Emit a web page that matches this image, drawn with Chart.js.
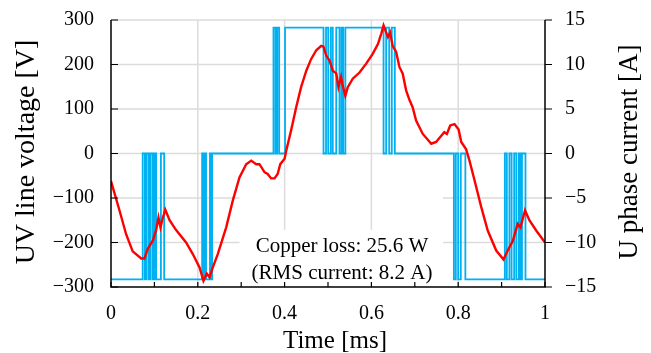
<!DOCTYPE html>
<html lang="en">
<head>
<meta charset="UTF-8">
<title>UV line voltage and U phase current</title>
<script src="https://cdn.jsdelivr.net/npm/chart.js"></script>
<style>
  body { margin: 0; background: #fff; }
</style>
</head>
<body>
<canvas id="myChart" width="651" height="353"></canvas>
<script>
// UV line voltage: switching instants [ms] and the level right after each one [V]
const voltTimes = [0,
  0.073, 0.078, 0.082, 0.087, 0.091, 0.096, 0.100, 0.104, 0.115, 0.1225,
  0.210, 0.213, 0.215, 0.219, 0.228, 0.2305, 0.233,
  0.3744, 0.379, 0.383, 0.3875, 0.401,
  0.4896, 0.4955, 0.5005, 0.5065, 0.511, 0.519, 0.5265, 0.531, 0.535, 0.540,
  0.628, 0.634, 0.641, 0.647, 0.654,
  0.790, 0.7945, 0.800, 0.806, 0.8165,
  0.9075, 0.912, 0.918, 0.923, 0.929, 0.934, 0.9396, 0.943, 0.947, 0.955,
  1];
const voltLevels = [-283,
  0, -283, 0, -283, 0, -283, 0, -283, 0, -283,
  0, -283, 0, -283, 0, -283, 0,
  283, 0, 283, 0, 283,
  0, 283, 0, 283, 0, 283, 0, 283, 0, 283,
  0, 283, 0, 283, 0,
  -283, 0, -283, 0, -283,
  0, -283, 0, -283, 0, -283, 0, -283, 0, -283,
  -283];

// U phase current [A]
const currTimes = [0, 0.0196, 0.035, 0.050, 0.0696, 0.077, 0.0848, 0.0963, 0.104, 0.1094,
  0.114, 0.119, 0.125, 0.135, 0.150, 0.173, 0.1885, 0.204, 0.213, 0.2207,
  0.227, 0.2346, 0.246, 0.2654, 0.2806, 0.296, 0.3115, 0.323, 0.3346, 0.342,
  0.3537, 0.361, 0.369, 0.3767, 0.384, 0.390, 0.400, 0.4037, 0.415, 0.4267,
  0.438, 0.450, 0.461, 0.473, 0.4843, 0.4896, 0.496, 0.5035, 0.511, 0.519,
  0.524, 0.530, 0.534, 0.540, 0.5456, 0.557, 0.5726, 0.588, 0.603, 0.615,
  0.6226, 0.628, 0.634, 0.638, 0.643, 0.649, 0.657, 0.6647, 0.672, 0.680,
  0.6878, 0.695, 0.703, 0.7184, 0.738, 0.749, 0.761, 0.768, 0.774, 0.7816,
  0.7915, 0.801, 0.807, 0.818, 0.826, 0.8376, 0.853, 0.868, 0.8876, 0.9044,
  0.914, 0.926, 0.937, 0.9435, 0.954, 0.964, 0.9797, 1];
const currValues = [-3.1, -6.4, -9.1, -11.0, -11.8, -11.8, -10.7, -9.8, -8.6, -7.2,
  -8.3, -7.3, -6.3, -7.5, -8.6, -10.0, -11.3, -12.8, -14.3, -13.5,
  -13.9, -12.8, -11.3, -8.3, -5.3, -2.7, -1.2, -0.8, -1.2, -1.2,
  -2.1, -2.3, -2.8, -2.8, -2.3, -1.2, -0.6, 0.3, 2.6, 5.2,
  7.45, 9.3, 10.6, 11.6, 12.1, 12.0, 11.0, 10.45, 9.3, 9.0,
  7.45, 8.6, 7.6, 6.5, 7.45, 8.4, 9.1, 10.1, 11.2, 12.3,
  13.45, 14.4, 13.6, 13.1, 13.6, 12.1, 11.4, 9.7, 9.0, 7.1,
  6.0, 5.2, 3.7, 2.2, 1.1, 1.3, 2.0, 2.4, 2.2, 3.15,
  3.3, 2.7, 1.3, 0.5, -0.8, -3.0, -6.0, -8.65, -10.9, -11.9,
  -10.9, -9.8, -7.9, -8.3, -6.4, -7.5, -8.65, -10.0];

const voltGrid = [-200, -100, 0, 100, 200, 300];
const timeGrid = [0.2, 0.4, 0.6, 0.8];
const voltTicks = [-300, -200, -100, 0, 100, 200, 300];
const currTicks = [-15, -10, -5, 0, 5, 10, 15];
const noteLines = ['Copper loss: 25.6 W', '(RMS current: 8.2 A)'];

const SERIF = '"Liberation Serif", "Times New Roman", serif';

// the note box hides part of the grid
const box = { from: 0.296, to: 0.765, top: -172 };

const framePlugin = {
  id: 'frame',
  beforeDatasetsDraw(chart) {
    const { ctx, chartArea: a, scales } = chart;
    const bx0 = scales.x.getPixelForValue(box.from);
    const bx1 = scales.x.getPixelForValue(box.to);
    const by = scales.yV.getPixelForValue(box.top);
    ctx.save();
    ctx.strokeStyle = '#dcdcdc';
    ctx.lineWidth = 1.5;
    ctx.beginPath();
    voltGrid.forEach(v => {
      const py = scales.yV.getPixelForValue(v);
      if (v <= -100) {
        ctx.moveTo(a.left, py); ctx.lineTo(bx0, py);
        ctx.moveTo(bx1, py); ctx.lineTo(a.right, py);
      } else {
        ctx.moveTo(a.left, py); ctx.lineTo(a.right, py);
      }
    });
    timeGrid.forEach(t => {
      const px = scales.x.getPixelForValue(t);
      ctx.moveTo(px, a.top);
      ctx.lineTo(px, (t > box.from && t < box.to) ? by : a.bottom);
    });
    ctx.stroke();
    ctx.restore();
  },
  afterDraw(chart) {
    const { ctx, chartArea: a, scales } = chart;
    ctx.save();
    ctx.strokeStyle = '#000';
    ctx.lineWidth = 1.5;
    ctx.beginPath();
    ctx.moveTo(a.left, a.top); ctx.lineTo(a.left, a.bottom);
    ctx.lineTo(a.right, a.bottom); ctx.lineTo(a.right, a.top);
    ctx.stroke();

    ctx.lineWidth = 1.2;
    ctx.beginPath();
    for (let i = 0; i <= 10; i++) {
      const px = scales.x.getPixelForValue(i / 10);
      ctx.moveTo(px, a.bottom); ctx.lineTo(px, a.bottom - 5);
    }
    voltTicks.forEach(v => {
      const py = scales.yV.getPixelForValue(v);
      ctx.moveTo(a.left, py); ctx.lineTo(a.left + 7, py);
    });
    currTicks.forEach(v => {
      const py = scales.yA.getPixelForValue(v);
      ctx.moveTo(a.right, py); ctx.lineTo(a.right + 7, py);
    });
    ctx.stroke();

    ctx.fillStyle = '#000';
    ctx.textAlign = 'center';
    ctx.textBaseline = 'alphabetic';
    ctx.font = '21px ' + SERIF;
    ctx.fillText(noteLines[0], 342, 252);
    ctx.fillText(noteLines[1], 342, 279);

    ctx.font = '25px ' + SERIF;
    ctx.fillText('Time [ms]', 335, 348);

    ctx.font = '28px ' + SERIF;
    ctx.save();
    ctx.translate(34, 152);
    ctx.rotate(-Math.PI / 2);
    ctx.fillText('UV line voltage [V]', 0, 0);
    ctx.restore();
    ctx.font = '27px ' + SERIF;
    ctx.save();
    ctx.translate(637, 152);
    ctx.rotate(-Math.PI / 2);
    ctx.fillText('U phase current [A]', 0, 0);
    ctx.restore();
    ctx.restore();
  }
};

const minus = s => String(s).replace('-', '\u2212');
const fitY = w => s => { s.width = w; s.paddingTop = 0; s.paddingBottom = 0; };

const ctx = document.getElementById('myChart').getContext('2d');
new Chart(ctx, {
  type: 'line',
  data: {
    datasets: [{
      label: 'U phase current',
      data: currTimes.map((t, i) => ({ x: t, y: currValues[i] })),
      yAxisID: 'yA',
      borderColor: '#ff0000',
      borderWidth: 2.4,
      pointRadius: 0,
      tension: 0,
      order: 0
    }, {
      label: 'UV line voltage',
      data: voltTimes.map((t, i) => ({ x: t, y: voltLevels[i] })),
      yAxisID: 'yV',
      borderColor: '#00b0f0',
      borderWidth: 1.8,
      pointRadius: 0,
      stepped: true,
      order: 1
    }]
  },
  options: {
    responsive: false,
    animation: false,
    devicePixelRatio: 1,
    layout: { padding: { top: 20, left: 0, right: 0, bottom: 0 } },
    plugins: { legend: { display: false }, tooltip: { enabled: false } },
    scales: {
      x: {
        type: 'linear',
        min: 0, max: 1,
        grid: { display: false, drawTicks: false },
        border: { display: false },
        ticks: {
          stepSize: 0.2,
          padding: 15,
          color: '#000',
          font: { family: SERIF, size: 20 },
          callback: v => String(Number(v.toFixed(1)))
        },
        afterFit: s => { s.height = 66; s.paddingLeft = 0; s.paddingRight = 0; }
      },
      yV: {
        position: 'left',
        min: -300, max: 300,
        grid: { display: false, drawTicks: false },
        border: { display: false },
        ticks: {
          stepSize: 100,
          padding: 17,
          color: '#000',
          font: { family: SERIF, size: 20 },
          callback: v => minus(v)
        },
        afterFit: fitY(111)
      },
      yA: {
        position: 'right',
        min: -15, max: 15,
        grid: { display: false, drawTicks: false },
        border: { display: false },
        ticks: {
          stepSize: 5,
          padding: 20,
          color: '#000',
          font: { family: SERIF, size: 20 },
          callback: v => minus(v)
        },
        afterFit: fitY(106)
      }
    }
  },
  plugins: [framePlugin]
});
</script>
</body>
</html>
